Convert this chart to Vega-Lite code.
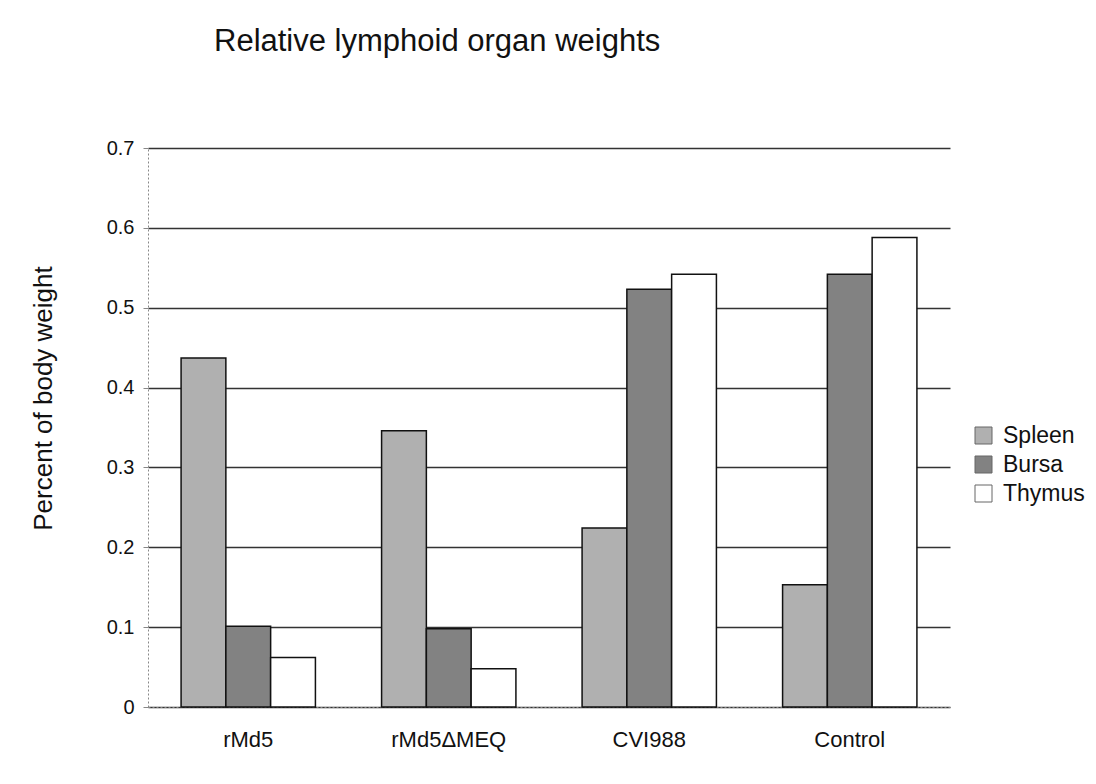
{
  "$schema": "https://vega.github.io/schema/vega-lite/v6.json",
  "width": 802,
  "height": 559,
  "autosize": "none",
  "padding": {"left": 148, "top": 148, "right": 146, "bottom": 77},
  "background": "white",
  "title": {
    "text": "Relative lymphoid organ weights",
    "anchor": "start",
    "frame": "group",
    "dx": 66,
    "offset": 80,
    "font": "Liberation Sans",
    "fontSize": 31,
    "fontWeight": "normal",
    "color": "#111"
  },
  "data": {
    "values": [
      {"group": "rMd5", "organ": "Spleen", "value": 0.437},
      {"group": "rMd5", "organ": "Bursa", "value": 0.101},
      {"group": "rMd5", "organ": "Thymus", "value": 0.062},
      {"group": "rMd5ΔMEQ", "organ": "Spleen", "value": 0.346},
      {"group": "rMd5ΔMEQ", "organ": "Bursa", "value": 0.098},
      {"group": "rMd5ΔMEQ", "organ": "Thymus", "value": 0.048},
      {"group": "CVI988", "organ": "Spleen", "value": 0.224},
      {"group": "CVI988", "organ": "Bursa", "value": 0.523},
      {"group": "CVI988", "organ": "Thymus", "value": 0.542},
      {"group": "Control", "organ": "Spleen", "value": 0.153},
      {"group": "Control", "organ": "Bursa", "value": 0.542},
      {"group": "Control", "organ": "Thymus", "value": 0.588}
    ]
  },
  "mark": {"type": "bar", "stroke": "#111", "strokeWidth": 1.5},
  "encoding": {
    "x": {
      "field": "group",
      "type": "nominal",
      "sort": ["rMd5", "rMd5ΔMEQ", "CVI988", "Control"],
      "scale": {"paddingInner": 0.33, "paddingOuter": 0.165},
      "axis": {
        "title": null,
        "labelAngle": 0,
        "labelFont": "Liberation Sans",
        "labelFontSize": 22,
        "labelColor": "#111",
        "labelPadding": 22,
        "domainColor": "#888",
        "domainDash": [2, 2],
        "ticks": false,
        "grid": false
      }
    },
    "xOffset": {
      "field": "organ",
      "type": "nominal",
      "sort": ["Spleen", "Bursa", "Thymus"]
    },
    "y": {
      "field": "value",
      "type": "quantitative",
      "scale": {"domain": [0, 0.7], "nice": false},
      "axis": {
        "title": "Percent of body weight",
        "titleFont": "Liberation Sans",
        "titleFontSize": 26,
        "titleFontWeight": "normal",
        "titleColor": "#111",
        "titleX": -105,
        "titleY": 250,
        "titleAngle": 270,
        "titleBaseline": "middle",
        "titleAlign": "center",
        "values": [0, 0.1, 0.2, 0.3, 0.4, 0.5, 0.6, 0.7],
        "format": "~g",
        "labelFont": "Liberation Sans",
        "labelFontSize": 20,
        "labelColor": "#111",
        "labelPadding": 9,
        "tickSize": 5,
        "tickColor": "#888",
        "domainColor": "#888",
        "domainDash": [2, 2],
        "grid": true,
        "gridColor": "#333",
        "gridWidth": 1.5,
        "gridOpacity": 1
      }
    },
    "fill": {
      "field": "organ",
      "type": "nominal",
      "sort": ["Spleen", "Bursa", "Thymus"],
      "scale": {"domain": ["Spleen", "Bursa", "Thymus"], "range": ["#b0b0b0", "#828282", "#ffffff"]},
      "legend": {
        "title": null,
        "orient": "none",
        "legendX": 824,
        "legendY": 276,
        "symbolType": "square",
        "symbolSize": 289,
        "symbolStrokeColor": "#666",
        "symbolStrokeWidth": 1,
        "labelFont": "Liberation Sans",
        "labelFontSize": 23,
        "labelColor": "#111",
        "labelOffset": 8,
        "rowPadding": 5
      }
    }
  },
  "config": {
    "view": {"stroke": null}
  }
}
